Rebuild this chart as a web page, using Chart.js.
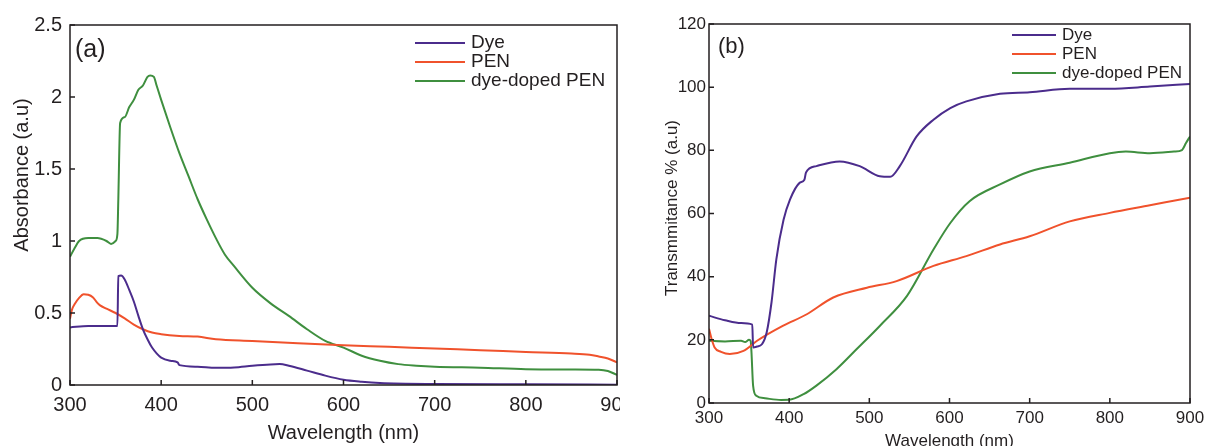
<!DOCTYPE html>
<html>
<head>
<meta charset="utf-8">
<script src="https://cdn.jsdelivr.net/npm/chart.js@4.4.0/dist/chart.umd.min.js"></script>
<style>
  body { margin: 0; background: #fff; width: 1207px; height: 446px; position: relative; overflow: hidden; }
  canvas { position: absolute; top: 0; }
  #absChart { left: 0; }
  #transChart { left: 640px; }
</style>
</head>
<body>
<canvas id="absChart" width="620" height="446"></canvas>
<canvas id="transChart" width="567" height="446"></canvas>
<script>
const seriesNames = ['Dye', 'PEN', 'dye-doped PEN'];
const seriesColors = ['#4b2c8c', '#f0522c', '#3f8f3f'];
const wavelengthTicks = [300, 400, 500, 600, 700, 800, 900];
const absorbanceTicks = [0, 0.5, 1, 1.5, 2, 2.5];
const transmittanceTicks = [0, 20, 40, 60, 80, 100, 120];

// (a) absorbance
const absDyeNm  = [300, 320, 340, 352, 353, 356, 360, 365, 370, 375, 380, 385, 390, 395, 400, 410, 418, 420, 440, 460, 480, 500, 520, 530, 540, 560, 580, 600, 620, 640, 700, 800, 900];
const absDyeVal = [0.40, 0.41, 0.41, 0.41, 0.756, 0.76, 0.733, 0.66, 0.58, 0.48, 0.387, 0.318, 0.26, 0.22, 0.19, 0.168, 0.157, 0.138, 0.127, 0.12, 0.122, 0.134, 0.143, 0.145, 0.134, 0.10, 0.065, 0.037, 0.023, 0.014, 0.007, 0.005, 0.002];

const absPenNm  = [300, 302, 305, 310, 315, 320, 325, 330, 333, 340, 350, 360, 370, 380, 390, 400, 420, 440, 460, 500, 550, 600, 650, 700, 750, 800, 850, 870, 880, 890, 900];
const absPenVal = [0.46, 0.52, 0.56, 0.605, 0.63, 0.627, 0.61, 0.57, 0.553, 0.53, 0.50, 0.463, 0.42, 0.387, 0.364, 0.353, 0.341, 0.336, 0.318, 0.306, 0.29, 0.276, 0.265, 0.253, 0.242, 0.23, 0.219, 0.21, 0.198, 0.184, 0.157];

const absMixNm  = [300, 305, 310, 320, 330, 340, 345, 350, 352, 353, 355, 360, 365, 370, 375, 380, 385, 388, 392, 395, 400, 410, 420, 430, 440, 450, 460, 470, 480, 500, 520, 540, 560, 580, 600, 620, 640, 660, 680, 700, 750, 800, 850, 880, 890, 900];
const absMixVal = [0.89, 0.95, 1.0, 1.02, 1.02, 1.0, 0.98, 1.0, 1.05, 1.29, 1.82, 1.86, 1.93, 1.98, 2.05, 2.08, 2.14, 2.15, 2.14, 2.08, 1.98, 1.79, 1.61, 1.45, 1.29, 1.15, 1.02, 0.905, 0.825, 0.675, 0.567, 0.48, 0.387, 0.306, 0.26, 0.203, 0.168, 0.145, 0.134, 0.127, 0.12, 0.11, 0.108, 0.106, 0.097, 0.07];

// (b) transmittance
const trDyeNm  = [300, 320, 340, 354, 355, 360, 366, 372, 378, 384, 393, 401, 413, 419, 421, 434, 463, 488, 513, 526, 538, 559, 580, 601, 621, 663, 700, 750, 800, 850, 900];
const trDyeVal = [27.6, 26.2, 25.3, 24.8, 17.6, 17.9, 18.6, 22.4, 31.9, 45.5, 58, 64.4, 69.7, 70.7, 73, 75, 76.5, 75, 71.8, 71.6, 75, 84.4, 89.7, 93.4, 95.5, 97.9, 98.4, 99.5, 99.5, 100.2, 101];

const trPenNm  = [300, 303, 307, 315, 326, 343, 360, 392, 422, 455, 497, 534, 580, 621, 663, 700, 750, 800, 850, 900];
const trPenVal = [23.5, 20.5, 17.6, 16.2, 15.5, 16.5, 19.7, 24.4, 28.1, 33.4, 36.5, 38.6, 43.4, 46.5, 50.2, 52.8, 57.5, 60.2, 62.6, 65];

const trMixNm  = [300, 320, 340, 345, 350, 352, 353, 355, 359, 370, 390, 400, 418, 434, 459, 484, 513, 547, 580, 601, 625, 663, 700, 750, 800, 820, 850, 880, 890, 895, 900];
const trMixVal = [19.7, 19.5, 19.7, 19.3, 20, 19.6, 16, 5.5, 2.3, 1.5, 0.95, 1.0, 2.8, 5.5, 10.7, 17, 24.4, 33.9, 48.6, 57, 63.9, 69.2, 73.3, 76.1, 79.1, 79.6, 79.1, 79.6, 80.1, 82.3, 84.4];

function points(xs, ys) {
  return xs.map((x, i) => ({ x: x, y: ys[i] }));
}

function makeDatasets(pairs) {
  return pairs.map((p, i) => ({
    label: seriesNames[i],
    data: points(p[0], p[1]),
    borderColor: seriesColors[i],
    backgroundColor: seriesColors[i],
    borderWidth: 2,
    pointRadius: 0,
    cubicInterpolationMode: 'monotone',
    fill: false
  }));
}

// frame, inward ticks, y title, panel tag and legend inside the plot
const panelDecor = {
  id: 'panelDecor',
  afterDatasetsDraw(chart, args, opts) {
    const { ctx, chartArea: a, scales } = chart;
    ctx.save();
    ctx.strokeStyle = '#231f20';
    ctx.lineWidth = 1.5;
    ctx.strokeRect(a.left, a.top, a.right - a.left, a.bottom - a.top);

    ctx.beginPath();
    scales.x.ticks.forEach(t => {
      const px = scales.x.getPixelForValue(t.value);
      ctx.moveTo(px, a.bottom);
      ctx.lineTo(px, a.bottom - 5);
    });
    scales.y.ticks.forEach(t => {
      const py = scales.y.getPixelForValue(t.value);
      ctx.moveTo(a.left, py);
      ctx.lineTo(a.left + 5, py);
    });
    ctx.stroke();

    ctx.fillStyle = '#231f20';
    ctx.textBaseline = 'middle';

    // y axis title (rotated)
    ctx.save();
    ctx.font = opts.yTitleFont;
    ctx.textAlign = 'center';
    ctx.translate(opts.yTitleX, opts.yTitleY);
    ctx.rotate(-Math.PI / 2);
    ctx.fillText(opts.yTitle, 0, 0);
    ctx.restore();

    ctx.font = opts.tagFont;
    ctx.fillText(opts.tag, a.left + opts.tagX, a.top + opts.tagY);

    ctx.font = opts.legendFont;
    chart.data.datasets.forEach((ds, i) => {
      const y = a.top + opts.legendTop + i * opts.legendRow;
      const x0 = a.right - opts.legendRight;
      ctx.strokeStyle = ds.borderColor;
      ctx.lineWidth = 2;
      ctx.beginPath();
      ctx.moveTo(x0, y);
      ctx.lineTo(x0 + opts.legendLine, y);
      ctx.stroke();
      ctx.fillText(ds.label, x0 + opts.legendLine + 6, y);
    });
    ctx.restore();
  }
};

function makeChart(id, datasets, yTicks, cfg) {
  const fam = '"Liberation Sans", Arial, sans-serif';
  return new Chart(document.getElementById(id), {
    type: 'line',
    data: { datasets: datasets },
    plugins: [panelDecor],
    options: {
      responsive: false,
      animation: false,
      events: [],
      layout: { padding: cfg.padding },
      plugins: {
        legend: { display: false },
        tooltip: { enabled: false },
        panelDecor: cfg.decor
      },
      scales: {
        x: {
          type: 'linear',
          min: 300,
          max: 900,
          afterBuildTicks: s => { s.ticks = wavelengthTicks.map(v => ({ value: v })); },
          afterFit: s => { s.height = cfg.xHeight; s.paddingLeft = 0; s.paddingRight = 0; },
          grid: { display: false, drawTicks: false },
          border: { display: false },
          ticks: { color: '#231f20', font: { family: fam, size: cfg.tickSize }, padding: cfg.xTickPad, maxRotation: 0, callback: v => String(v) },
          title: { display: true, text: 'Wavelength (nm)', color: '#231f20', font: { family: fam, size: cfg.titleSize }, padding: cfg.xTitlePad }
        },
        y: {
          type: 'linear',
          min: yTicks[0],
          max: yTicks[yTicks.length - 1],
          afterBuildTicks: s => { s.ticks = yTicks.map(v => ({ value: v })); },
          afterFit: s => { s.width = cfg.yWidth; s.paddingTop = 0; s.paddingBottom = 0; },
          grid: { display: false, drawTicks: false },
          border: { display: false },
          ticks: { color: '#231f20', font: { family: fam, size: cfg.tickSize }, padding: cfg.yTickPad, callback: v => String(v) }
        }
      }
    }
  });
}

makeChart('absChart',
  makeDatasets([[absDyeNm, absDyeVal], [absPenNm, absPenVal], [absMixNm, absMixVal]]),
  absorbanceTicks,
  {
    padding: { left: 0, right: 3, top: 25, bottom: 0 },
    xHeight: 61, yWidth: 70,
    tickSize: 20, titleSize: 20,
    xTickPad: 8, yTickPad: 8,
    xTitlePad: { top: 0, bottom: 1 },
    decor: { yTitle: 'Absorbance (a.u)', yTitleFont: '20px "Liberation Sans", Arial, sans-serif', yTitleX: 22, yTitleY: 175,
             tag: '(a)', tagFont: '25px "Liberation Sans", Arial, sans-serif', tagX: 5, tagY: 25,
             legendFont: '19px "Liberation Sans", Arial, sans-serif', legendTop: 18, legendRow: 19, legendRight: 202, legendLine: 50 }
  });

makeChart('transChart',
  makeDatasets([[trDyeNm, trDyeVal], [trPenNm, trPenVal], [trMixNm, trMixVal]]),
  transmittanceTicks,
  {
    padding: { left: 0, right: 17, top: 24, bottom: 0 },
    xHeight: 43, yWidth: 69,
    tickSize: 17, titleSize: 17,
    xTickPad: 5, yTickPad: 3,
    xTitlePad: { top: 0, bottom: -6 },
    decor: { yTitle: 'Transmmitance % (a.u)', yTitleFont: '17px "Liberation Sans", Arial, sans-serif', yTitleX: 32, yTitleY: 208,
             tag: '(b)', tagFont: '22px "Liberation Sans", Arial, sans-serif', tagX: 9, tagY: 23,
             legendFont: '17px "Liberation Sans", Arial, sans-serif', legendTop: 11, legendRow: 19, legendRight: 178, legendLine: 44 }
  });
</script>
</body>
</html>
